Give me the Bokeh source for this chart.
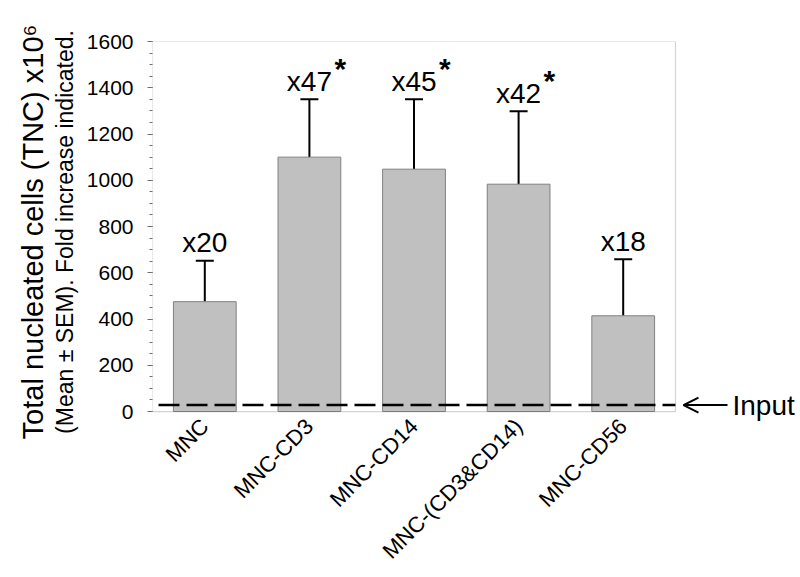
import math
from bokeh.plotting import figure
from bokeh.models import (ColumnDataSource, Range1d, SingleIntervalTicker, FixedTicker,
                          Whisker, TeeHead, Arrow, OpenHead, Label, BoxAnnotation,
                          LinearAxis)
from bokeh.core.properties import value
from bokeh.embed import file_html
from bokeh.resources import INLINE

# ---- data ----
categories = ["MNC", "MNC-CD3", "MNC-CD14", "MNC-(CD3&CD14)", "MNC-CD56"]
means = [475, 1100, 1048, 983, 414]
sem_top = [652, 1350, 1350, 1298, 658]
fold = ["x20", "x47", "x45", "x42", "x18"]
significant = [False, True, True, True, False]
input_level = 28
y_max = 1600
y_ticks_interval = 200

FONT = "Liberation Sans"

xs = list(range(len(categories)))
src = ColumnDataSource(dict(x=xs, mean=means, top=sem_top, fold=fold))
star_x = [x for x, s in zip(xs, significant) if s]
star_y = [t for t, s in zip(sem_top, significant) if s]
star_src = ColumnDataSource(dict(x=star_x, y=star_y, t=["*"] * len(star_x)))

W, H = 796, 575
LEFT, TOP = 152, 41
BOX_W, BOX_H = 523, 371          # visible plot box in px
PAD_B = 11                       # extra frame below 0 so the "Input" text is not clipped
FW = W - LEFT                    # frame extends to the right edge (room for "Input")
FH = BOX_H + PAD_B
BOX_L, BOX_R = -0.5, len(categories) - 0.5
upp = (BOX_R - BOX_L) / BOX_W    # x data units per pixel
vpp = y_max / BOX_H              # y data units per pixel
X_END = BOX_L + FW * upp
Y_START = -PAD_B * vpp

p = figure(width=W, height=H, output_backend="svg", toolbar_location=None,
           x_range=Range1d(BOX_L, X_END), y_range=Range1d(Y_START, y_max),
           min_border_left=LEFT, min_border_top=TOP,
           min_border_right=0, min_border_bottom=H - TOP - FH)
p.grid.visible = False
p.outline_line_color = None
p.background_fill_color = "white"
p.border_fill_color = "white"

# plot box
p.add_layout(BoxAnnotation(left=BOX_L, right=BOX_R, bottom=0, top=y_max,
                           fill_alpha=0, line_color="#707070", line_width=1.2))

# bars
p.vbar(x="x", top="mean", bottom=0, width=0.6, source=src,
       fill_color="#c0c0c0", line_color="#808080", line_width=1)

# upper error bars
p.add_layout(Whisker(base="x", lower="mean", upper="top", source=src, dimension="height",
                     line_color="black", line_width=2,
                     upper_head=TeeHead(size=18, line_width=2, line_color="black"),
                     lower_head=None))

# fold labels
p.text(x="x", y="top", text="fold", source=src, text_align="center",
       text_baseline="alphabetic", y_offset=-18, text_font=value(FONT),
       text_font_size="28px", text_color="black")
p.text(x="x", y="y", text="t", source=star_src, text_align="left",
       text_baseline="alphabetic", x_offset=25, y_offset=-31, text_font=value(FONT),
       text_font_size="30px", text_font_style="bold", text_color="black")

# input dashed line (inside the box)
p.line(x=[BOX_L, BOX_R], y=[input_level, input_level], line_color="black",
       line_width=2.5, line_dash="21 7", line_dash_offset=22)

# arrow + Input label
p.add_layout(Arrow(end=OpenHead(size=15, line_width=2, line_color="black"),
                   x_start=BOX_R + 52 * upp, y_start=input_level,
                   x_end=BOX_R + 8 * upp, y_end=input_level,
                   line_width=2, line_color="black"))
p.add_layout(Label(x=BOX_R + 57 * upp, y=input_level, text="Input",
                   text_font=FONT, text_font_size="28px", text_align="left",
                   text_baseline="middle", text_color="black"))

# y axis
ya = p.yaxis[0]
ya.ticker = SingleIntervalTicker(interval=y_ticks_interval, num_minor_ticks=4)
ya.major_label_text_font = FONT
ya.major_label_text_font_size = "21px"
ya.major_label_text_color = "black"
ya.major_tick_out = 5
ya.major_tick_in = 0
ya.minor_tick_out = 3
ya.minor_tick_in = 0
ya.major_label_standoff = 14
ya.axis_line_color = None
ya.major_tick_line_color = "#707070"
ya.minor_tick_line_color = "#707070"
ya.axis_label = "(Mean \u00b1 SEM). Fold increase indicated."
ya.axis_label_text_font = FONT
ya.axis_label_text_font_size = "23px"
ya.axis_label_text_font_style = "normal"
ya.axis_label_text_color = "black"
ya.axis_label_standoff = 6

# outer title axis
ta = LinearAxis(ticker=FixedTicker(ticks=[]), axis_line_color=None,
                major_tick_out=0, major_tick_in=0, minor_tick_out=0, minor_tick_in=0,
                major_label_text_font_size="0px",
                axis_label="Total nucleated cells (TNC) x10\u2076",
                axis_label_text_font=FONT, axis_label_text_font_size="29px",
                axis_label_text_font_style="normal", axis_label_text_color="black",
                axis_label_standoff=0)
p.add_layout(ta, "left")

# x axis
xa = p.xaxis[0]
xa.ticker = FixedTicker(ticks=xs)
xa.major_label_overrides = {i: c for i, c in zip(xs, categories)}
xa.major_label_orientation = math.pi / 4
xa.major_label_text_font = FONT
xa.major_label_text_font_size = "22px"
xa.major_label_text_color = "black"
xa.major_tick_out = 0
xa.major_tick_in = 0
xa.minor_tick_out = 0
xa.minor_tick_in = 0
xa.major_label_standoff = 0
xa.axis_line_color = None

open("out.html", "w").write(file_html(p, INLINE))
